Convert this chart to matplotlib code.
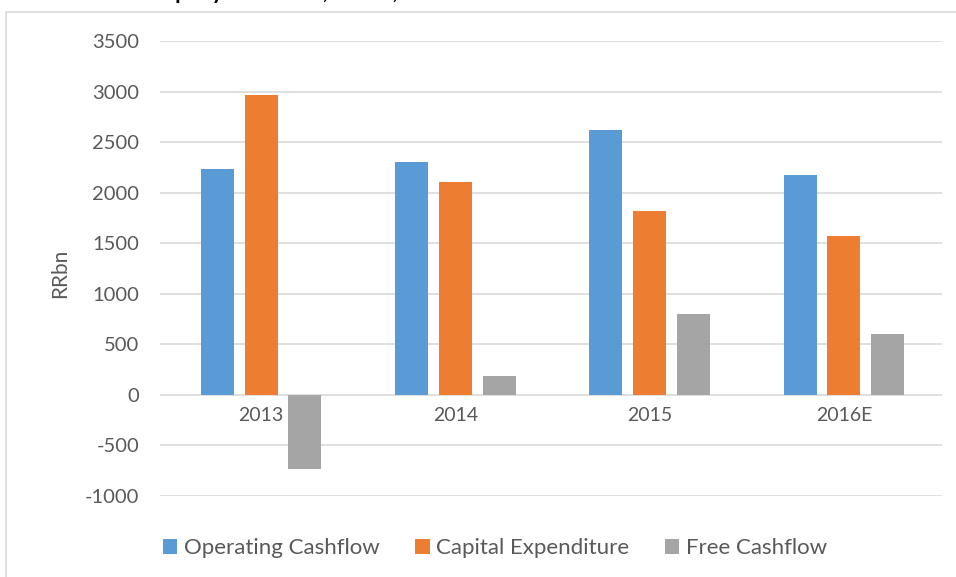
import matplotlib.pyplot as plt
from matplotlib.patches import Rectangle
import numpy as np

plt.rcParams['font.family'] = ['Lato', 'DejaVu Sans']
plt.rcParams['axes.unicode_minus'] = False

years = ['2013', '2014', '2015', '2016E']
operating = [2230, 2300, 2620, 2170]
capex = [2970, 2110, 1820, 1570]
free_cf = [-735, 190, 800, 600]

series = [('Operating Cashflow', operating, '#5B9BD5'),
          ('Capital Expenditure', capex, '#ED7D31'),
          ('Free Cashflow', free_cf, '#A5A5A5')]

fig = plt.figure(figsize=(9.56, 5.77), dpi=100)
W, H = 956, 577

# outer chart frame, cut off at right and bottom
fig.patches.append(Rectangle((6 / W, -0.1), 1.2, 1 - 12 / H + 0.1,
                             transform=fig.transFigure, fill=False,
                             edgecolor='#D9D9D9', linewidth=1.2))

# title is mostly cropped off the top in the reference
fig.text(22 / W, 1 + 1 / H, 'Russian oil company cash flow, RR bn, 2013-2016E',
         fontsize=16, fontweight='bold', va='baseline', ha='left', color='black')

ax = fig.add_axes([160 / W, 1 - 496 / H, (942 - 160) / W, (496 - 41) / H])

x = np.arange(len(years))
width = 0.17
step = 0.225
for i, (name, vals, col) in enumerate(series):
    ax.bar(x + (i - 1) * step, vals, width, color=col, label=name, zorder=2)

ax.set_xlim(-0.52, 3.505)
ax.set_ylim(-1000, 3500)
ax.set_yticks(np.arange(-1000, 3501, 500))
ax.yaxis.grid(True, color='#D9D9D9', linewidth=1.2, zorder=0)
ax.set_axisbelow(True)
for s in ax.spines.values():
    s.set_visible(False)
ax.tick_params(axis='y', length=0, pad=15, labelsize=14.5, labelcolor='#595959')
ax.set_xticks([])

for xi, lab in zip(x, years):
    ax.text(xi, -120, lab, ha='center', va='top', fontsize=14, color='#595959')

ax.set_ylabel('RRbn', fontsize=15, color='#595959')
ax.yaxis.set_label_coords(-0.115, 0.49)

fig.legend(loc='center', bbox_to_anchor=(495 / W, 1 - 548 / H), ncol=3,
           frameon=False, fontsize=16, handlelength=0.65, handleheight=0.65,
           columnspacing=1.6, handletextpad=0.3, labelcolor='#595959')

fig.savefig('out.png', dpi=100)
